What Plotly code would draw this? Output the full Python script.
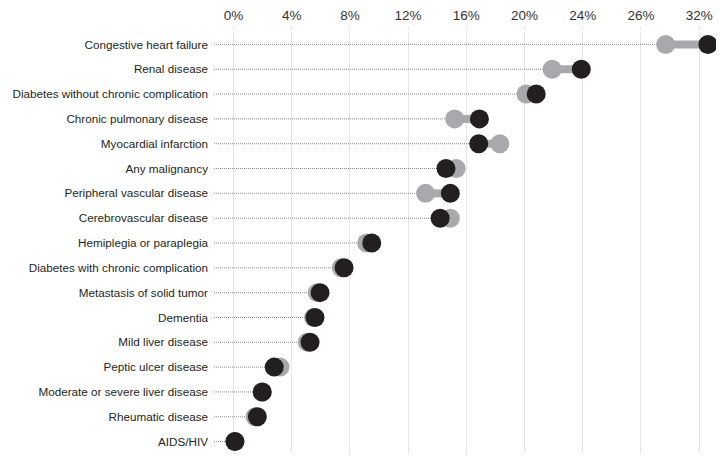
import plotly.graph_objects as go

categories = [
    "Congestive heart failure", "Renal disease", "Diabetes without chronic complication",
    "Chronic pulmonary disease", "Myocardial infarction", "Any malignancy",
    "Peripheral vascular disease", "Cerebrovascular disease", "Hemiplegia or paraplegia",
    "Diabetes with chronic complication", "Metastasis of solid tumor", "Dementia",
    "Mild liver disease", "Peptic ulcer disease", "Moderate or severe liver disease",
    "Rheumatic disease", "AIDS/HIV",
]
gray_values = [29.7, 21.9, 20.1, 15.2, 18.3, 15.3, 13.2, 14.9, 9.15, 7.4, 5.75, 5.5, 5.07, 3.2, 1.95, 1.48, 0.1]
black_values = [32.6, 23.9, 20.8, 16.9, 16.85, 14.6, 14.9, 14.2, 9.5, 7.6, 5.95, 5.6, 5.26, 2.8, 1.98, 1.64, 0.1]
tick_values = [0, 4, 8, 12, 16, 20, 24, 28, 32]
tick_labels = ["0%", "4%", "8%", "12%", "16%", "20%", "24%", "26%", "32%"]

X_MIN, X_MAX = -1.34, 33.02
FONT = "Liberation Sans, Arial, sans-serif"
GRAY = "#a7a9ac"
BLACK = "#231f20"

rows = list(range(len(categories)))

dot_x, dot_y, con_x, con_y = [], [], [], []
for i, (g, b) in enumerate(zip(gray_values, black_values)):
    dot_x += [X_MIN, min(g, b), None]
    dot_y += [i, i, None]
    con_x += [g, b, None]
    con_y += [i, i, None]

fig = go.Figure()
fig.add_trace(go.Scatter(x=dot_x, y=dot_y, mode="lines",
                         line=dict(color="#8a8a8a", width=1, dash="1px,1px"),
                         hoverinfo="skip", showlegend=False))
fig.add_trace(go.Scatter(x=con_x, y=con_y, mode="lines",
                         line=dict(color=GRAY, width=8),
                         hoverinfo="skip", showlegend=False))
fig.add_trace(go.Scatter(x=gray_values, y=rows, mode="markers",
                         marker=dict(color=GRAY, size=19, line=dict(width=0)),
                         showlegend=False, cliponaxis=False))
fig.add_trace(go.Scatter(x=black_values, y=rows, mode="markers",
                         marker=dict(color=BLACK, size=19, line=dict(width=0)),
                         showlegend=False, cliponaxis=False))

fig.update_layout(
    width=716, height=448,
    margin=dict(l=206, r=10, t=24, b=2),
    paper_bgcolor="white", plot_bgcolor="white",
    font=dict(family=FONT, size=12, color=BLACK),
    xaxis=dict(side="top", range=[X_MIN, X_MAX], tickvals=tick_values, ticktext=tick_labels,
               showgrid=True, gridcolor="#e6e6e6", gridwidth=1, zeroline=False,
               ticks="outside", ticklen=4, tickcolor="#e6e6e6", automargin=False,
               ticklabelstandoff=2,
               tickfont=dict(family=FONT, size=13.5, color="#333333"), showline=False),
    yaxis=dict(range=[len(categories) - 0.5, -0.5], tickvals=rows, ticktext=categories,
               showgrid=False, zeroline=False, showline=False, ticks="", automargin=False,
               ticklabelstandoff=5,
               tickfont=dict(family=FONT, size=11.7, color=BLACK)),
)

fig.write_html("out.html")
